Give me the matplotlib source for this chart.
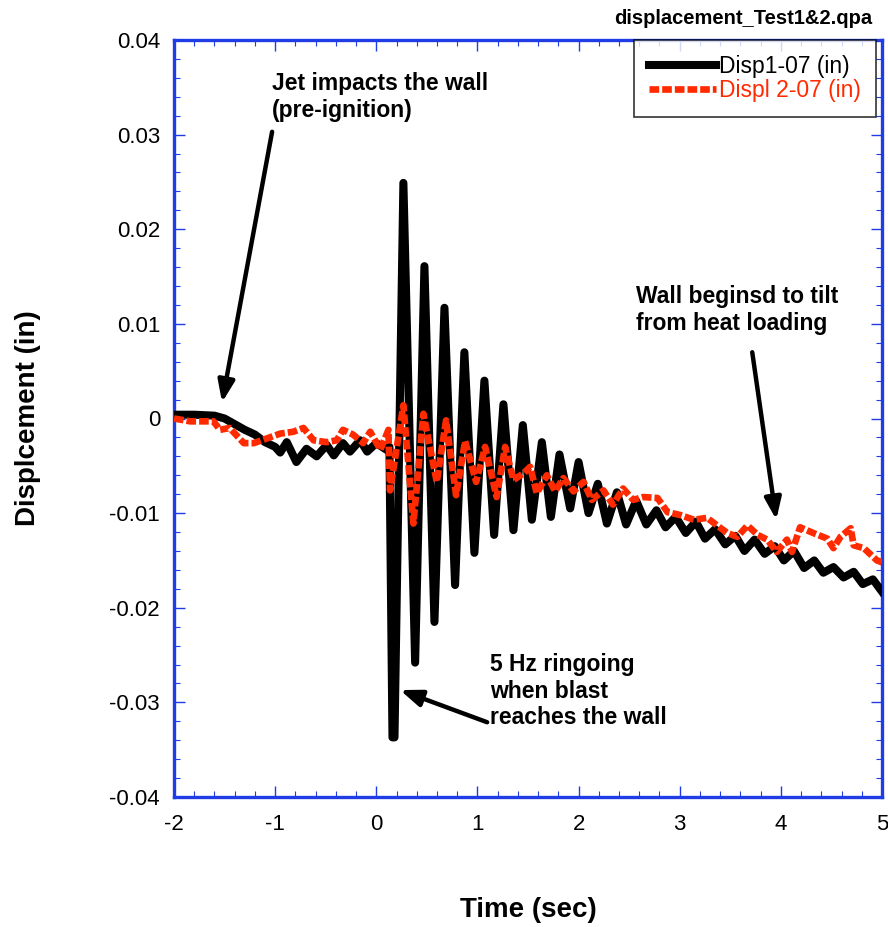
import matplotlib
matplotlib.use("Agg")
import matplotlib.pyplot as plt
from matplotlib.ticker import MultipleLocator, FixedLocator

plt.rcParams['font.family'] = ['Liberation Sans', 'DejaVu Sans']

# ---- data ----
t_disp1 = [-2.0, -1.8, -1.6, -1.5, -1.4, -1.3, -1.2, -1.1, -1.0, -0.95, -0.885, -0.79, -0.69,
           -0.59, -0.49, -0.42, -0.33, -0.26, -0.16, -0.09, 0.0, 0.1, 0.13,
           0.16, 0.18, 0.268, 0.384, 0.476, 0.575, 0.674, 0.779, 0.871, 0.970, 1.069, 1.165,
           1.257, 1.356, 1.449, 1.538, 1.637, 1.726, 1.811, 1.917, 2.0, 2.098, 2.19, 2.28,
           2.379, 2.47, 2.57, 2.67, 2.77, 2.86, 2.96, 3.06, 3.16, 3.25, 3.35, 3.45, 3.55, 3.64,
           3.74, 3.84, 3.94, 4.03, 4.13, 4.23, 4.33, 4.42, 4.52, 4.62, 4.72, 4.81, 4.91, 5.0]
disp1 = [0.0004, 0.0004, 0.0003, 0.0, -0.0006, -0.0012, -0.0017, -0.0025, -0.0030, -0.0036,
         -0.0025, -0.0046, -0.0032, -0.0040, -0.0028, -0.0039, -0.0026, -0.0035, -0.0023,
         -0.0035, -0.0026, -0.0033, -0.0030,
         -0.0337, -0.0337, 0.0249, -0.0258, 0.0161, -0.0215, 0.0117, -0.0176, 0.0070, -0.0142,
         0.0040, -0.0123, 0.0015, -0.0118, -0.0007, -0.0107, -0.0025, -0.0104, -0.0038,
         -0.0095, -0.0046, -0.0100, -0.0069, -0.0111,
         -0.0078, -0.0112, -0.0087, -0.0112, -0.0097, -0.0115, -0.0104, -0.0121, -0.0109,
         -0.0127, -0.0117, -0.0133, -0.0124, -0.0140, -0.0128, -0.0143, -0.0135, -0.0150,
         -0.0140, -0.0158, -0.0150, -0.0163, -0.0157, -0.0168, -0.0162, -0.0175, -0.0170,
         -0.0183]

t_disp2 = [-2.0, -1.84, -1.61, -1.545, -1.45, -1.31, -1.21, -1.08, -0.95, -0.82, -0.72, -0.62,
           -0.49, -0.39, -0.33, -0.23, -0.13, -0.06, 0.04, 0.12,
           0.136, 0.268, 0.367, 0.466, 0.598, 0.69, 0.789, 0.878, 0.987, 1.076, 1.19, 1.274,
           1.356, 1.455, 1.521, 1.587, 1.686, 1.769, 1.85, 1.95, 2.049, 2.131, 2.246, 2.34,
           2.44, 2.54, 2.64, 2.78, 2.88, 3.005, 3.14, 3.27, 3.37, 3.47, 3.57, 3.67, 3.77, 3.865,
           3.96, 4.06, 4.11, 4.19, 4.32, 4.46, 4.52, 4.59, 4.69, 4.72, 4.82, 4.95, 5.0]
disp2 = [0.0, -0.0003, -0.0003, -0.0012, -0.0010, -0.0026, -0.0026, -0.0021, -0.0016, -0.0014,
         -0.0010, -0.0023, -0.0025, -0.0023, -0.0012, -0.0017, -0.0026, -0.0014, -0.0033,
         -0.0012,
         -0.0076, 0.0014, -0.0111, 0.0005, -0.0067, -0.0002, -0.0081, -0.0024, -0.0067,
         -0.0030, -0.0083, -0.0030, -0.0065, -0.0058, -0.0051, -0.0079, -0.0060, -0.0077,
         -0.0063, -0.0077, -0.0067, -0.0086, -0.0076, -0.0091, -0.0074, -0.0086, -0.0083,
         -0.0084, -0.0099, -0.0102, -0.0107, -0.0105, -0.0113, -0.0121, -0.0125, -0.0113,
         -0.0123, -0.0128, -0.0141, -0.0128, -0.0141, -0.0115, -0.0121, -0.0127, -0.0137,
         -0.0125, -0.0116, -0.0134, -0.0137, -0.0150, -0.0152]

x_ticks = [-2, -1, 0, 1, 2, 3, 4, 5]
y_ticks = [-0.04, -0.03, -0.02, -0.01, 0, 0.01, 0.02, 0.03, 0.04]
y_tick_labels = ['-0.04', '-0.03', '-0.02', '-0.01', '0', '0.01', '0.02', '0.03', '0.04']
series_labels = ['Disp1-07 (in)', 'Displ 2-07 (in)']

BLUE = '#1f3ce6'
RED = '#ff2a00'

fig = plt.figure(figsize=(8.88, 9.27), dpi=100)
ax = fig.add_axes([174/888, 1-797/927, (882-174)/888, (797-40)/927])

ax.plot(t_disp1, disp1, color='black', lw=5.8, solid_joinstyle='round', label=series_labels[0], zorder=3)
ax.plot(t_disp2, disp2, color=RED, lw=4.8, linestyle=(0, (1.45, 0.45)), dash_capstyle='butt',
        label=series_labels[1], zorder=4)

ax.set_xlim(-2, 5)
ax.set_ylim(-0.04, 0.04)
ax.xaxis.set_major_locator(FixedLocator(x_ticks))
ax.set_xticklabels([str(v) for v in x_ticks])
ax.xaxis.set_minor_locator(MultipleLocator(0.2))
ax.yaxis.set_major_locator(FixedLocator(y_ticks))
ax.set_yticklabels(y_tick_labels)
ax.yaxis.set_minor_locator(MultipleLocator(0.002))

for s in ax.spines.values():
    s.set_color(BLUE)
    s.set_linewidth(2.4)
ax.tick_params(which='both', direction='in', top=True, right=True, color=BLUE,
               labelsize=16, labelcolor='black')
ax.tick_params(which='major', length=8, width=1)
ax.tick_params(which='minor', length=4, width=0.8)
ax.tick_params(axis='x', pad=12)
ax.tick_params(axis='y', pad=10)

fig.text(28/888, 1-418/927, 'Displcement (in)', rotation=90, fontsize=20, fontweight='bold',
         ha='center', va='center')
fig.text(528/888, 1-910/927, 'Time (sec)', fontsize=20, fontweight='bold', ha='center', va='center')
fig.text(872/888, 1-18/927, 'displacement_Test1&2.qpa', fontsize=14.5, fontweight='bold',
         ha='right', va='center')

leg = ax.legend(loc='upper right', bbox_to_anchor=(876/888, 1-40/927), bbox_transform=fig.transFigure,
                borderaxespad=0, fontsize=16.5, frameon=True, fancybox=False, handlelength=2.9,
                handletextpad=0.15, labelspacing=0.05, borderpad=0.65)
leg.get_frame().set_edgecolor('black')
leg.get_frame().set_linewidth(1.2)
for txt, col in zip(leg.get_texts(), ['black', RED]):
    txt.set_color(col)

arrowprops = dict(arrowstyle='-|>,head_length=1.3,head_width=0.5', color='black', lw=3.2,
                  shrinkA=0, shrinkB=0)
ann_size = 16.5
ax.text(-1.031, 0.0366, 'Jet impacts the wall\n(pre-ignition)', fontsize=ann_size,
        fontweight='bold', ha='left', va='top', linespacing=1.2)
ax.annotate('', xy=(-1.525, 0.0017), xytext=(-1.03, 0.0303), arrowprops=arrowprops)

ax.text(2.57, 0.0141, 'Wall beginsd to tilt\nfrom heat loading', fontsize=ann_size,
        fontweight='bold', ha='left', va='top', linespacing=1.2)
ax.annotate('', xy=(3.955, -0.0107), xytext=(3.717, 0.0070), arrowprops=arrowprops)

ax.text(1.126, -0.0248, '5 Hz ringoing\nwhen blast\nreaches the wall', fontsize=ann_size,
        fontweight='bold', ha='left', va='top', linespacing=1.2)
ax.annotate('', xy=(0.235, -0.0287), xytext=(1.096, -0.0321), arrowprops=arrowprops)

fig.savefig('out.png', dpi=100)
